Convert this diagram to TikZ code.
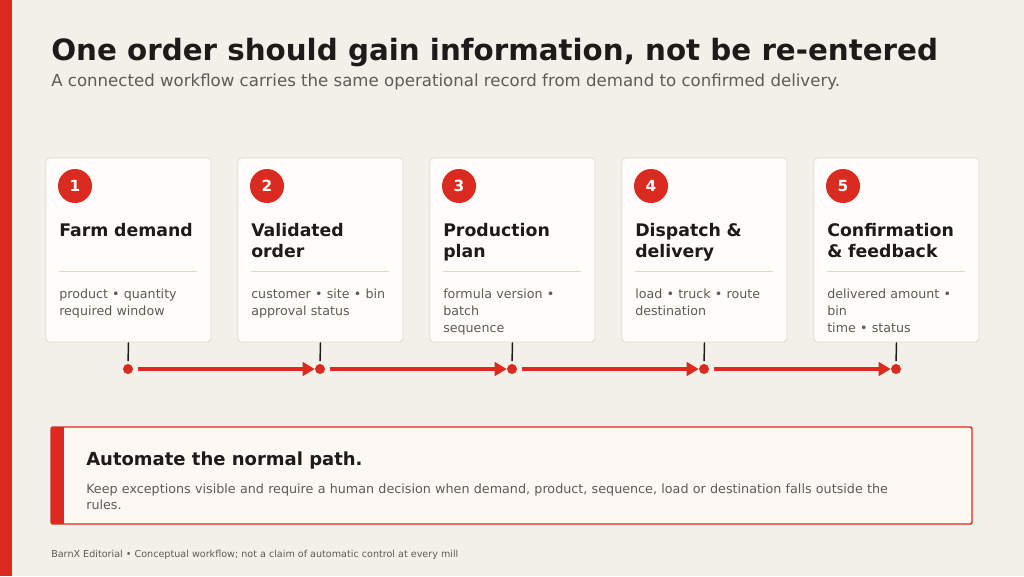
\documentclass[tikz,border=0pt]{standalone}
\usepackage{fontspec}
\setmainfont{DejaVu Sans}
\usetikzlibrary{arrows.meta}

\definecolor{barnred}{HTML}{D92B1F}
\definecolor{paper}{HTML}{F3F0EA}
\definecolor{cardfill}{HTML}{FFFDF9}
\definecolor{cardline}{HTML}{DDD8CC}
\definecolor{inktext}{HTML}{1C1B19}
\definecolor{greytext}{HTML}{5E5A55}
\definecolor{notefill}{HTML}{FDF8F4}

\tikzset{
  card/.style={draw=cardline, fill=cardfill, rounded corners=2.5pt, line width=0.6pt,
    minimum width=123.75pt, minimum height=138pt, inner sep=0pt},
  badge/.style={circle, fill=barnred, text=white, inner sep=0pt, minimum size=25.5pt,
    font=\bfseries\fontsize{11.5}{13}\selectfont},
  cardtitle/.style={anchor=base west, inner sep=0pt, text width=110pt, align=left,
    text=inktext, font=\bfseries\fontsize{13}{15.75}\selectfont},
  cardbody/.style={anchor=base west, inner sep=0pt, text width=110pt, align=left,
    text=greytext, font=\fontsize{9.5}{12.75}\selectfont},
  divider/.style={draw=cardline, line width=0.75pt},
  stem/.style={draw=inktext, line width=1.1pt, shorten >=2pt},
  dot/.style={circle, fill=barnred, minimum size=7.5pt, inner sep=0pt},
  flow/.style={draw=barnred, line width=3pt, shorten <=3.5pt,
    -{Triangle[length=9pt,width=10pt]}},
  notebox/.style={draw=barnred, fill=notefill, line width=1.1pt, rounded corners=1.5pt,
    minimum width=690.75pt, minimum height=72.75pt, inner sep=0pt},
}

\begin{document}
\begin{tikzpicture}[x=0.75pt, y=-0.75pt]
      % Fundo
      \fill[paper]   (0,0) rectangle (1024,576);
      \fill[barnred] (0,0) rectangle (12,576);
      \useasboundingbox (0,0) rectangle (1024,576);

      % Titulo
      \node[anchor=base west, inner sep=0pt, text=inktext,
        font=\bfseries\fontsize{22}{26}\selectfont] (title) at (51,60)
        {One order should gain information, not be re-entered};
      \node[anchor=base west, inner sep=0pt, text=greytext,
        font=\fontsize{12.45}{14}\selectfont] (subtitle) at (51,86.5)
        {A connected workflow carries the same operational record from demand to confirmed delivery.};

      % Cartoes
      \node[card] (card1) at (128.5,250) {};
      \node[card] (card2) at (320.5,250) {};
      \node[card] (card3) at (512.5,250) {};
      \node[card] (card4) at (704.5,250) {};
      \node[card] (card5) at (896.5,250) {};

      \node[badge] (badge1) at (75,186)  {1};
      \node[badge] (badge2) at (267,186) {2};
      \node[badge] (badge3) at (459,186) {3};
      \node[badge] (badge4) at (651,186) {4};
      \node[badge] (badge5) at (843,186) {5};

      \node[cardtitle] (head1) at (59,236)  {Farm demand};
      \node[cardtitle] (head2) at (251,236) {Validated\\order};
      \node[cardtitle] (head3) at (443,236) {Production\\plan};
      \node[cardtitle] (head4) at (635,236) {Dispatch \&\\delivery};
      \node[cardtitle] (head5) at (827,236) {Confirmation\\\& feedback};

      \draw[divider] (59,271)  -- (197,271);
      \draw[divider] (251,271) -- (389,271);
      \draw[divider] (443,271) -- (581,271);
      \draw[divider] (635,271) -- (773,271);
      \draw[divider] (827,271) -- (965,271);

      \node[cardbody] (body1) at (59,298)  {product • quantity\\required window};
      \node[cardbody] (body2) at (251,298) {customer • site • bin\\approval status};
      \node[cardbody] (body3) at (443,298) {formula version •\\batch\\sequence};
      \node[cardbody] (body4) at (635,298) {load • truck • route\\destination};
      \node[cardbody] (body5) at (827,298) {delivered amount •\\bin\\time • status};

      % Linha do fluxo
      \node[dot] (dot1) at (128,369) {};
      \node[dot] (dot2) at (320,369) {};
      \node[dot] (dot3) at (512,369) {};
      \node[dot] (dot4) at (704,369) {};
      \node[dot] (dot5) at (896,369) {};

      \draw[stem] (card1.south) -- (dot1.north);
      \draw[stem] (card2.south) -- (dot2.north);
      \draw[stem] (card3.south) -- (dot3.north);
      \draw[stem] (card4.south) -- (dot4.north);
      \draw[stem] (card5.south) -- (dot5.north);

      \draw[flow] (dot1) -- (dot2);
      \draw[flow] (dot2) -- (dot3);
      \draw[flow] (dot3) -- (dot4);
      \draw[flow] (dot4) -- (dot5);

      % Nota
      \node[notebox] (note) at (511.5,475.5) {};
      \fill[barnred] (51,427) rectangle (64,524);
      \node[anchor=base west, inner sep=0pt, text=inktext,
        font=\bfseries\fontsize{13.5}{16}\selectfont] (notehead) at (86,465)
        {Automate the normal path.};
      \node[anchor=base west, inner sep=0pt, text width=620pt, align=left, text=greytext,
        font=\fontsize{9.55}{12.5}\selectfont] (notebody) at (86,493)
        {Keep exceptions visible and require a human decision when demand, product, sequence, load or destination falls outside the\\rules.};

      % Rodape
      \node[anchor=base west, inner sep=0pt, text=greytext,
        font=\fontsize{7.2}{8}\selectfont] (footer) at (51,557)
        {BarnX Editorial • Conceptual workflow; not a claim of automatic control at every mill};
\end{tikzpicture}
\end{document}
